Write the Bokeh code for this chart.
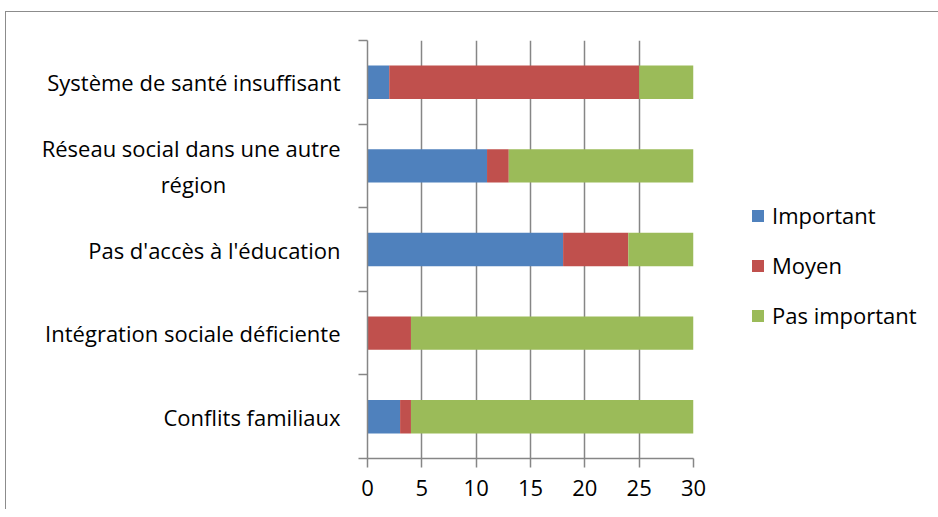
from bokeh.plotting import figure
from bokeh.models import Range1d, FixedTicker, Legend, LegendItem
from bokeh.embed import file_html
from bokeh.resources import INLINE

NB = "\u00a0"
categories = ["Conflits familiaux", "Intégration sociale déficiente",
              "Pas d'accès à l'éducation",
              "Réseau social dans une autre\nrégion" + NB * 20,
              "Système de santé insuffisant"]
important = [3, 0, 18, 11, 2]
moyen = [1, 4, 6, 2, 23]
pas_important = [26, 26, 6, 17, 5]
series = ["Important", "Moyen", "Pas important"]
colors = ["#4F81BD", "#C0504D", "#9BBB59"]
x_ticks = [0, 5, 10, 15, 20, 25, 30]

ypos = [i + 0.5 for i in range(len(categories))]
data = dict(y=ypos, Important=important, Moyen=moyen)
data["Pas important"] = pas_important

FONT = "Open Sans"
FS = "22px"
p = figure(frame_width=326, frame_height=418, output_backend="svg", toolbar_location=None,
           x_range=Range1d(0, 30), y_range=Range1d(0, len(categories)),
           min_border_left=367, min_border_right=237, min_border_top=40, min_border_bottom=51)
p.outline_line_color = None
p.border_fill_color = None
p.background_fill_color = None
p.styles = {
    "background-color": "white",
    "background-image": "linear-gradient(#8c8c8c,#8c8c8c), linear-gradient(#8c8c8c,#8c8c8c)",
    "background-size": "1px 520px, 940px 1px",
    "background-position": "5px 11px, 5px 11px",
    "background-repeat": "no-repeat",
}
renderers = p.hbar_stack(series, y="y", height=0.4, color=colors, source=data, line_width=0)

p.xgrid.ticker = FixedTicker(ticks=x_ticks)
p.xgrid.grid_line_color = "#868686"
p.xgrid.grid_line_width = 1.5
p.ygrid.grid_line_color = None

xa = p.xaxis[0]
xa.ticker = FixedTicker(ticks=x_ticks)
xa.axis_line_color = "#868686"
xa.axis_line_width = 1.5
xa.major_tick_line_color = "#868686"
xa.major_tick_line_width = 1.5
xa.major_tick_in = 0
xa.major_tick_out = 9
xa.minor_tick_line_color = None
xa.major_label_text_font = FONT
xa.major_label_text_font_size = FS
xa.major_label_text_color = "#000000"
xa.major_label_standoff = 12

ya = p.yaxis[0]
ya.ticker = FixedTicker(ticks=ypos, minor_ticks=list(range(len(categories) + 1)))
ya.major_label_overrides = {y: c for y, c in zip(ypos, categories)}
ya.axis_line_color = "#868686"
ya.axis_line_width = 1.5
ya.major_tick_line_color = None
ya.major_tick_in = 0
ya.major_tick_out = 0
ya.minor_tick_line_color = "#868686"
ya.minor_tick_line_width = 1.5
ya.minor_tick_in = 0
ya.minor_tick_out = 9
ya.major_label_text_font = FONT
ya.major_label_text_font_size = FS
ya.major_label_text_color = "#000000"
ya.major_label_standoff = 18

legend = Legend(items=[LegendItem(label=s, renderers=[r]) for s, r in zip(series, renderers)],
                location=(57, 128), padding=0, margin=0, border_line_alpha=0,
                background_fill_alpha=0, glyph_width=15, glyph_height=15,
                label_standoff=7, spacing=20, label_text_font=FONT,
                label_text_font_size=FS, label_text_color="#000000")
p.add_layout(legend, "right")

open("out.html", "w").write(file_html(p, INLINE))
